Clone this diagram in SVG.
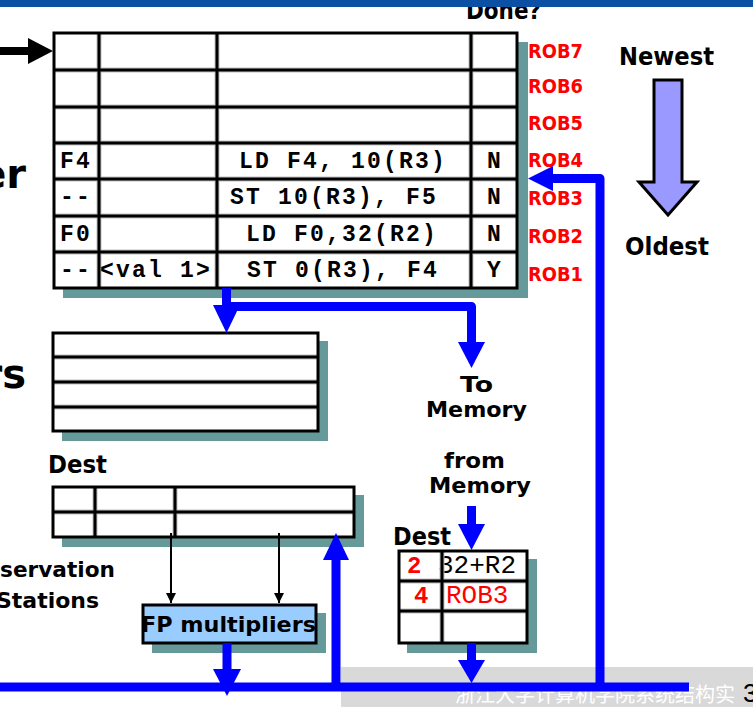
<svg xmlns="http://www.w3.org/2000/svg" width="753" height="707" viewBox="0 0 753 707">
<style>
.shadow{fill:#669999}
.cell{fill:#ffffff}
.gl{stroke:#c0c0c0;stroke-width:5;fill:none}
.bl{stroke:#000000;stroke-width:3;fill:none}
.mono{font-family:"Liberation Mono","Courier New",monospace;font-weight:bold;font-size:23px;letter-spacing:2.2px;fill:#000000}
.mono2{font-family:"Liberation Mono","Courier New",monospace;font-size:26px}
.comic{font-family:"DejaVu Sans","Noto Sans",sans-serif;font-weight:bold;font-size:24px;fill:#000000}
.comic2{font-family:"DejaVu Sans","Noto Sans",sans-serif;font-weight:bold;font-size:22px;fill:#000000}
.big{font-family:"DejaVu Sans","Noto Sans",sans-serif;font-weight:bold;font-size:40px;fill:#000000}
.rob{font-family:"DejaVu Sans","Noto Sans",sans-serif;font-weight:bold;font-size:19px;fill:#ff0000}
.bus{stroke:#0000ff;stroke-width:9;fill:none}
.head{fill:#0000ff}
.thin{stroke:#000000;stroke-width:2;fill:none}
</style>
<defs>
<marker id="ah" viewBox="0 0 10 10" refX="10" refY="5" markerWidth="5" markerHeight="5" orient="auto" markerUnits="strokeWidth">
<path d="M0,0 L10,5 L0,10 z" fill="#000000"/>
</marker>
</defs>
<rect x="0" y="0" width="753" height="707" fill="#ffffff"/>

<!-- watermark band -->
<g id="footer">
<rect x="341" y="667" width="412" height="40" fill="#d9d9d9"/>
<text x="455" y="702" font-family="'Noto Sans CJK SC',sans-serif" font-size="20" fill="#ffffff" textLength="280" lengthAdjust="spacingAndGlyphs">浙江大学计算机学院系统结构实</text>
<text x="743" y="702" font-family="'Liberation Sans',sans-serif" font-size="26" fill="#000000">3</text>
</g>

<!-- left cut-off labels -->
<g id="labels">
<text class="big" x="26" y="188" text-anchor="end">er</text>
<text class="big" x="26" y="388" text-anchor="end">rs</text>
<text class="comic2" x="0" y="577" textLength="115" lengthAdjust="spacingAndGlyphs">servation</text>
<text class="comic2" x="-4" y="608" textLength="103" lengthAdjust="spacingAndGlyphs">Stations</text>
<text class="comic" x="466" y="19" textLength="75" lengthAdjust="spacingAndGlyphs">Done?</text>
<text class="comic" x="619" y="65" textLength="95" lengthAdjust="spacingAndGlyphs">Newest</text>
<text class="comic" x="625" y="255" textLength="84" lengthAdjust="spacingAndGlyphs">Oldest</text>
<text class="comic2" x="460" y="392" textLength="33" lengthAdjust="spacingAndGlyphs">To</text>
<text class="comic2" x="426" y="417" textLength="101" lengthAdjust="spacingAndGlyphs">Memory</text>
<text class="comic2" x="444" y="468" textLength="61" lengthAdjust="spacingAndGlyphs">from</text>
<text class="comic2" x="429" y="493" textLength="102" lengthAdjust="spacingAndGlyphs">Memory</text>
<text class="comic" x="48" y="473" textLength="59" lengthAdjust="spacingAndGlyphs">Dest</text>
<text class="comic" x="393" y="545" textLength="58" lengthAdjust="spacingAndGlyphs">Dest</text>
</g>

<!-- Newest -> Oldest arrow -->
<g id="age-arrow">
<polygon points="654,80 682,80 682,182 697,182 668,215 639,182 654,182" fill="#9999ff" stroke="#000000" stroke-width="3" stroke-linejoin="miter"/>
</g>

<!-- head pointer arrow -->
<g id="head-pointer">
<polygon points="0,47 28,47 28,38 53,51 28,64 28,55 0,55" fill="#000000"/>
</g>

<!-- Reorder buffer -->
<g id="rob">
<rect class="shadow" x="63" y="42" width="465" height="256"/>
<rect class="cell" x="54" y="33" width="463" height="255"/>
<path class="gl" d="M54,70H517M54,107H517M54,143H517M54,179H517M54,216H517M54,252H517M99,33V288M217,33V288M471,33V288"/>
<path class="bl" d="M54,70H517M54,107H517M54,143H517M54,179H517M54,216H517M54,252H517M99,33V288M217,33V288M471,33V288"/>
<rect class="bl" x="54" y="33" width="463" height="255"/>
<text class="mono" x="60" y="168">F4</text>
<text class="mono" x="239" y="168">LD F4, 10(R3)</text>
<text class="mono" x="487" y="168">N</text>
<text class="mono" x="60" y="204">--</text>
<text class="mono" x="230" y="204">ST 10(R3), F5</text>
<text class="mono" x="487" y="204">N</text>
<text class="mono" x="60" y="241">F0</text>
<text class="mono" x="246" y="241">LD F0,32(R2)</text>
<text class="mono" x="487" y="241">N</text>
<text class="mono" x="60" y="277">--</text>
<text class="mono" x="100" y="277">&lt;val 1&gt;</text>
<text class="mono" x="247" y="277">ST 0(R3), F4</text>
<text class="mono" x="487" y="277">Y</text>
<text class="rob" x="528" y="58" textLength="55" lengthAdjust="spacingAndGlyphs">ROB7</text>
<text class="rob" x="528" y="93" textLength="55" lengthAdjust="spacingAndGlyphs">ROB6</text>
<text class="rob" x="528" y="130" textLength="55" lengthAdjust="spacingAndGlyphs">ROB5</text>
<text class="rob" x="528" y="167" textLength="55" lengthAdjust="spacingAndGlyphs">ROB4</text>
<text class="rob" x="528" y="205" textLength="55" lengthAdjust="spacingAndGlyphs">ROB3</text>
<text class="rob" x="528" y="243" textLength="55" lengthAdjust="spacingAndGlyphs">ROB2</text>
<text class="rob" x="528" y="281" textLength="55" lengthAdjust="spacingAndGlyphs">ROB1</text>
</g>

<!-- FP registers -->
<g id="fp-registers">
<rect class="shadow" x="62" y="341" width="266" height="100"/>
<rect class="cell" x="53" y="333" width="265" height="98"/>
<path class="gl" d="M53,357H318M53,382H318M53,407H318"/>
<path class="bl" d="M53,357H318M53,382H318M53,407H318"/>
<rect class="bl" x="53" y="333" width="265" height="98"/>
</g>

<!-- Reservation stations -->
<g id="reservation-stations">
<rect class="shadow" x="62" y="495" width="302" height="52"/>
<rect class="cell" x="53" y="487" width="301" height="50"/>
<path class="gl" d="M53,512H354M95,487V537M175,487V537"/>
<path class="bl" d="M53,512H354M95,487V537M175,487V537"/>
<rect class="bl" x="53" y="487" width="301" height="50"/>
</g>

<!-- FP multipliers -->
<g id="fp-multipliers">
<rect class="shadow" x="152" y="613" width="174" height="40"/>
<rect x="143" y="605" width="173" height="38" fill="#99ccff" stroke="#000000" stroke-width="3"/>
<text class="comic2" x="141" y="632" textLength="175" lengthAdjust="spacingAndGlyphs">FP multipliers</text>
</g>

<!-- Load buffer -->
<g id="load-buffer">
<rect class="shadow" x="407" y="559" width="130" height="94"/>
<rect class="cell" x="399" y="551" width="128" height="92"/>
<text class="mono2" x="438" y="573" fill="#000000">32+R2</text>
<text class="mono2" x="446" y="603" fill="#ff0000">ROB3</text>
<text x="407" y="573" font-family="'Liberation Mono',monospace" font-weight="bold" font-size="24" fill="#ff0000">2</text>
<text x="414" y="603" font-family="'Liberation Mono',monospace" font-weight="bold" font-size="24" fill="#ff0000">4</text>
<path class="gl" d="M399,581H527M399,611H527M442,551V643"/>
<path class="bl" d="M399,581H527M399,611H527M442,551V643"/>
<rect class="bl" x="399" y="551" width="128" height="92"/>
</g>

<!-- connectors -->
<g id="connectors">
<path class="bus" d="M226.5,288V306.5H471.5V343" stroke-linejoin="round"/>
<polygon class="head" points="213,305 240,305 226.5,333"/>
<polygon class="head" points="458,342 485,342 471.5,368"/>
<path class="bus" d="M471.5,506V525"/>
<polygon class="head" points="458,524 485,524 471.5,550"/>
<path class="bus" d="M471.5,643V661"/>
<polygon class="head" points="458,660 485,660 471.5,683"/>
<path class="bus" d="M0,687H689"/>
<path class="bus" d="M600,687V178.5H552" stroke-linejoin="round"/>
<polygon class="head" points="553,166 553,191 528,178.5"/>
<path class="bus" d="M336,687V559"/>
<polygon class="head" points="323,560 349,560 336,533"/>
<path class="bus" d="M227,643V670"/>
<polygon class="head" points="213,669 241,669 227,696"/>
<path class="thin" d="M171,533V603" marker-end="url(#ah)"/>
<path class="thin" d="M279,533V603" marker-end="url(#ah)"/>
</g>

<!-- top band -->
<rect x="0" y="0" width="753" height="7" fill="#0b50a2"/>
</svg>
